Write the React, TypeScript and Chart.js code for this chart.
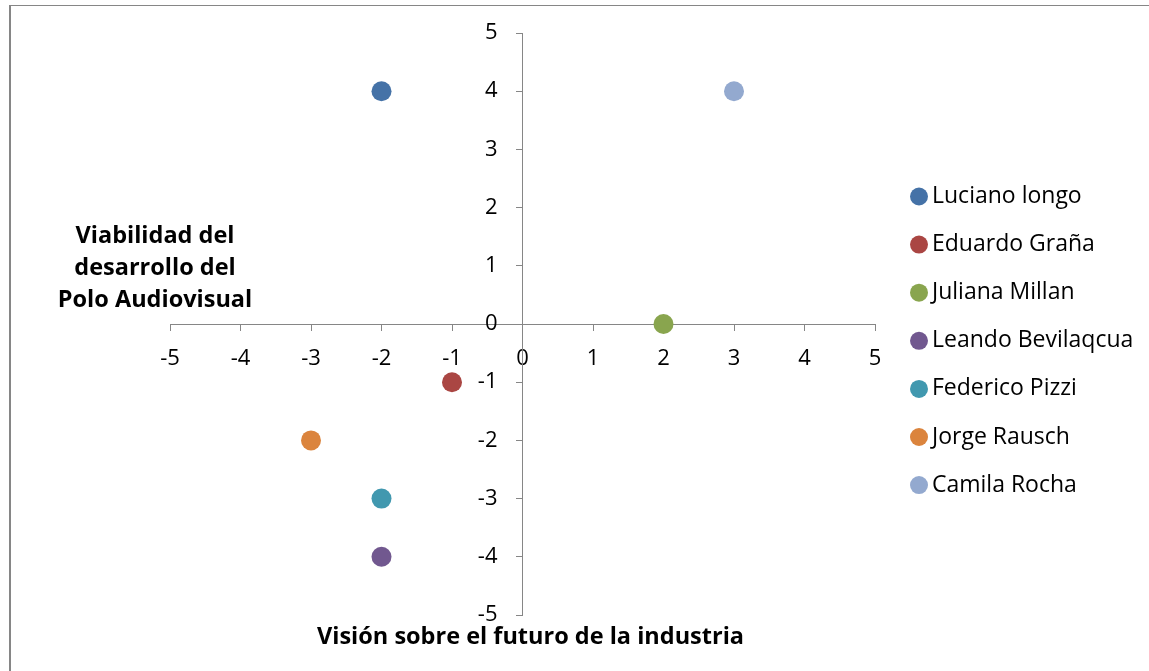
import React, { useEffect, useRef } from "react";
import { Chart, registerables } from "chart.js";

Chart.register(...registerables);

const seriesNames = [
  "Luciano longo",
  "Eduardo Graña",
  "Juliana Millan",
  "Leando Bevilaqcua",
  "Federico Pizzi",
  "Jorge Rausch",
  "Camila Rocha",
];
const xValues = [-2, -1, 2, -2, -2, -3, 3];
const yValues = [4, -1, 0, -4, -3, -2, 4];
const seriesColors = ["#4572A7", "#AA4643", "#89A54E", "#71588F", "#4198AF", "#DB843D", "#93A9CF"];
const axisMin = -5;
const axisMax = 5;
const xTitle = "Visión sobre el futuro de la industria";
const yTitleLines = ["Viabilidad del", "desarrollo del", "Polo Audiovisual"];

const FONT = "'Open Sans', sans-serif";
const AXIS_COLOR = "#868686";

const decorPlugin = {
  id: "decor",
  afterDraw(chart: any) {
    const ctx = chart.ctx as CanvasRenderingContext2D;
    ctx.save();
    ctx.fillStyle = "#000";
    ctx.font = `bold 23.5px ${FONT}`;
    ctx.textAlign = "center";
    ctx.textBaseline = "middle";
    const xPix = chart.scales.x.getPixelForValue(0);
    ctx.fillText(xTitle, xPix + 8, 637);
    yTitleLines.forEach((line, i) => {
      ctx.fillText(line, 155, 236 + i * 32);
    });
    ctx.font = `23px ${FONT}`;
    ctx.textAlign = "left";
    chart.data.datasets.forEach((ds: any, i: number) => {
      const cy = 196.5 + i * 48.1;
      ctx.beginPath();
      ctx.fillStyle = ds.backgroundColor;
      ctx.arc(919, cy, 9, 0, Math.PI * 2);
      ctx.fill();
      ctx.fillStyle = "#000";
      ctx.fillText(ds.label, 932, cy);
    });
    ctx.restore();
  },
};

export default function App() {
  const canvasRef = useRef<HTMLCanvasElement | null>(null);

  useEffect(() => {
    if (!canvasRef.current) return;
    const datasets = seriesNames.map((name, i) => ({
      label: name,
      data: [{ x: xValues[i], y: yValues[i] }],
      backgroundColor: seriesColors[i],
      borderColor: seriesColors[i],
      pointRadius: 10,
      pointHoverRadius: 10,
      borderWidth: 0,
    }));
    const chart = new Chart(canvasRef.current, {
      type: "scatter",
      data: { datasets },
      plugins: [decorPlugin],
      options: {
        animation: false,
        responsive: false,
        maintainAspectRatio: false,
        layout: { padding: { left: 170, top: 33, bottom: 56, right: 274 } },
        plugins: { legend: { display: false }, tooltip: { enabled: false } },
        scales: {
          x: {
            type: "linear",
            min: axisMin,
            max: axisMax,
            position: { y: 0 },
            ticks: { stepSize: 1, color: "#000", font: { family: FONT, size: 22 }, padding: 16 },
            grid: { display: true, drawOnChartArea: false, drawTicks: true, tickLength: 6, color: AXIS_COLOR },
            border: { display: true, color: AXIS_COLOR, width: 1 },
          },
          y: {
            type: "linear",
            min: axisMin,
            max: axisMax,
            position: "center",
            ticks: { stepSize: 1, color: "#000", font: { family: FONT, size: 22 }, padding: 19 },
            grid: { display: true, drawOnChartArea: false, drawTicks: true, tickLength: 6, color: AXIS_COLOR },
            border: { display: true, color: AXIS_COLOR, width: 1 },
          },
        },
      },
    } as any);
    return () => chart.destroy();
  }, []);

  return (
    <div style={{ position: "fixed", left: 0, top: 0, width: 1149, height: 671, background: "#fff" }}>
      <div
        style={{
          position: "absolute",
          left: 9,
          top: 5,
          right: 0,
          bottom: 0,
          borderLeft: `2px solid ${AXIS_COLOR}`,
          borderTop: `1px solid ${AXIS_COLOR}`,
        }}
      />
      <canvas ref={canvasRef} width={1149} height={671} style={{ position: "absolute", left: 0, top: 0 }} />
    </div>
  );
}
